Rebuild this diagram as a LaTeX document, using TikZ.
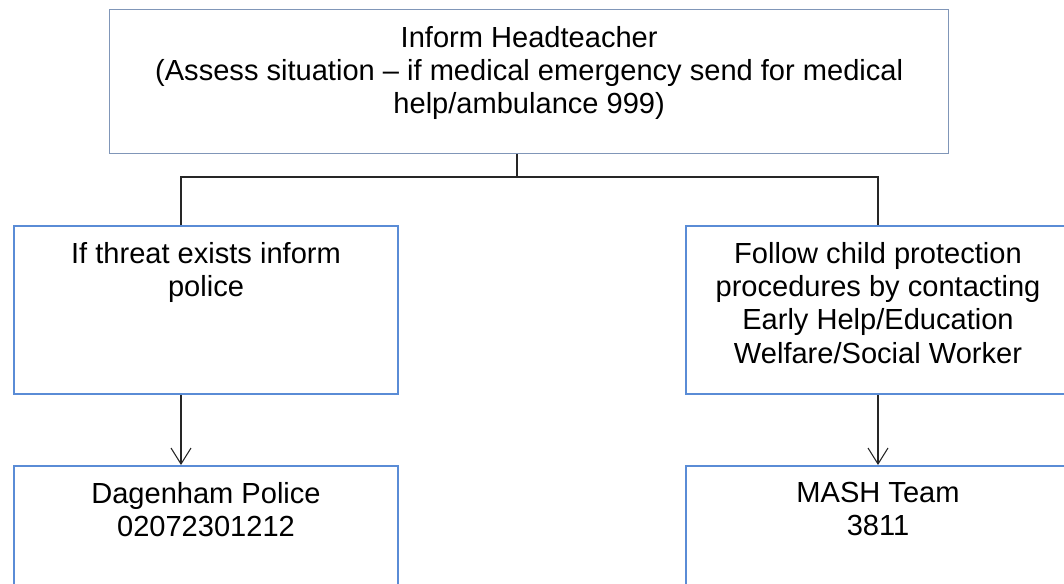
\documentclass[tikz,border=0pt]{standalone}
\usepackage{fontspec}
\setmainfont{Liberation Sans}
\usetikzlibrary{arrows.meta}
\definecolor{topframe}{HTML}{8096B8}
\definecolor{boxframe}{HTML}{5A8CD6}
\definecolor{linkgrey}{HTML}{262626}
\tikzset{
	headbox/.style={draw=topframe, line width=1pt, minimum width=629.25pt, minimum height=108pt, anchor=north west, inner sep=0pt},
	stepbox/.style={draw=boxframe, line width=1.5pt, minimum width=288pt, minimum height=126pt, anchor=north west, inner sep=0pt},
	boxtext/.style={anchor=north, align=center, inner sep=0pt, font=\fontsize{21.8}{25.1}\selectfont},
	link/.style={draw=linkgrey, line width=0.8pt},
	arrowlink/.style={link, -{Straight Barb[length=12pt, width=15pt]}}
}

\begin{document}
\begin{tikzpicture}[x=0.75pt, y=-0.75pt]
		\useasboundingbox (0,0) rectangle (1064,583);
		\clip (0,0) rectangle (1064,583);
		% boxes
		\node[headbox] (head) at (109,9) {};
		\node[stepbox] (threat) at (13,225) {};
		\node[stepbox] (protect) at (685,225) {};
		\node[stepbox] (police) at (13,465) {};
		\node[stepbox] (mash) at (685,465) {};
		
		\node[boxtext] (headtext) at ([yshift=-12.5pt]head.north) {Inform Headteacher\\(Assess situation -- if medical emergency send for medical\\help/ambulance 999)};
		\node[boxtext] (threattext) at ([yshift=-12.5pt]threat.north) {If threat exists inform\\police};
		\node[boxtext] (protecttext) at ([yshift=-12.5pt]protect.north) {Follow child protection\\procedures by contacting\\Early Help/Education\\Welfare/Social Worker};
		\node[boxtext] (policetext) at ([yshift=-12.5pt]police.north) {Dagenham Police\\02072301212};
		\node[boxtext] (mashtext) at ([yshift=-12.5pt]mash.north) {MASH Team\\3811};
		
		% connectors
		\coordinate (fork) at (517,177);
		\coordinate (forkleft) at (181,177);
		\draw[link] (fork |- head.south) -- (fork);
		\draw[link] (forkleft |- threat.north) -- (forkleft) -- (fork -| protect.north) -- (protect.north);
		\draw[arrowlink] (forkleft |- threat.south) -- (forkleft |- police.north);
		\draw[arrowlink] (protect.south) -- (mash.north);
\end{tikzpicture}
\end{document}
